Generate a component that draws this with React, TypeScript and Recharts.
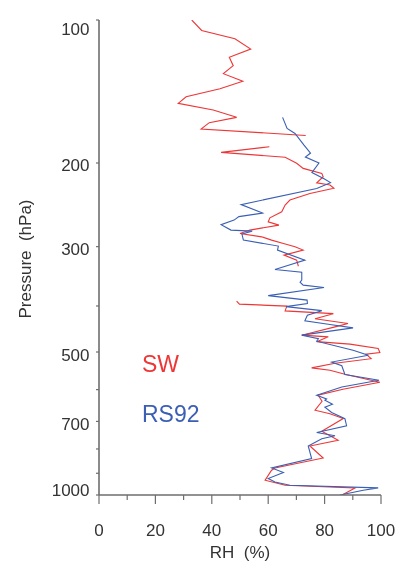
import { LineChart, Line, XAxis, YAxis } from "recharts"

// RH axis (%) and pressure axis (hPa, log)
const rhTicks = [0, 10, 20, 30, 40, 50, 60, 70, 80, 90, 100]
const pressureTicks = [100, 200, 300, 400, 500, 600, 700, 800, 900, 1000]
const pressureLabels = [100, 200, 300, 500, 700, 1000]

// SW sonde (null = no data)
const swPressure = [100, 105.2, 109.5, 115.1, 119.8, 124.8, 129.7, 134.6, 139.5, 145.1, 149.8, 154.7, 160.3, 164.5, 169.7, 175.0, 180, 184.9, 190.0, 194.5, 200.3, 205.3, 210.3, 213.8, 220.2, 222.6, 226.0, 231.8, 239.4, 245.3, 253.4, 260.9, 266.0, 270.3, 276.9, 281.4, 286.1, 290.7, 295.4, 300.2, 305.1, 312.6, 320.3, 329.9, 360, 390.7, 396.4, 400.3, 409.6, 415.2, 425.4, 435.4, 442.6, 460.8, 464.6, 475.5, 481.3, 491.5, 501.1, 505.3, 516.5, 528.2, 540.0, 546.1, 556.8, 578.8, 598.8, 616.4, 634.7, 663.0, 674.4, 690.3, 734.2, 766.9, 788.4, 835.7, 877.2, 887.0, 931.1, 954.0, 966.9, 1000]
const swRH = [32.9, 36.4, 48.2, 53.8, 46.2, 47.6, 44.1, 51.0, 42.9, 30.9, 28.1, 40.5, 48.8, 39.1, 36.2, 73.3, null, 60.4, 43.3, 66.0, 70.1, 72.4, 79.0, 79.5, 77.2, 81.9, 83.3, 74.8, 67.7, 66.0, 64.8, 60.6, 60.0, 63.8, 53.5, 50.0, 57.7, 61.2, 65.4, 69.5, 72.4, 65.6, 70.1, 70.7, null, 48.8, 49.8, 66.6, 66.0, 83.1, 76.6, 88.3, 83.7, 71.9, 81.3, 77.2, 89.0, 99.0, 99.6, 94.7, 96.5, 83.7, 75.4, 81.9, 87.2, 99.6, 86.5, 77.7, 79.1, 76.6, 81.9, 86.6, 79.0, 84.8, 74.8, 79.5, 62.4, 61.2, 58.9, 66.0, 90.8, 86.2]

// RS92 sonde
const rsPressure = [160.3, 169.1, 173.3, 183.4, 190.6, 194.3, 200.0, 209.5, 215.8, 220.0, 226.3, 244.7, 255.0, 259.4, 263.8, 269.7, 276.9, 278.3, 282.3, 290.7, 299.2, 305.1, 320.3, 335.1, 339.5, 352.9, 356.3, 361.5, 365.6, 380.5, 388.8, 395.4, 401.3, 409.2, 418.2, 430.0, 437.5, 444.7, 460.8, 468.8, 474.4, 495.6, 507.8, 525.0, 534.5, 557.6, 573.2, 592.2, 616.4, 627.7, 631.6, 644.0, 653.5, 670.4, 690.9, 714.8, 738.8, 750.6, 761.0, 788.4, 838.2, 877.2, 897.0, 923.5, 938.8, 954.0, 966.0, 977.4, 1000]
const rsRH = [65.1, 66.7, 69.5, 72.7, 75.0, 73.2, 78.0, 75.5, 79.8, 82.1, 77.2, 50.4, 58.0, 49.6, 47.9, 43.3, 46.8, 54.3, 50.7, 51.2, 63.6, 63.3, 73.0, 62.4, 71.9, 71.9, 71.3, 72.4, 79.8, 60.0, 73.8, 73.9, 66.3, 79.0, 73.9, 73.0, 81.9, 90.1, 71.9, 77.8, 77.2, 90.1, 95.5, 82.5, 86.1, 87.2, 99.3, 86.1, 77.2, 80.7, 80.1, 82.8, 80.1, 82.5, 87.2, 87.8, 77.2, 83.7, 79.0, 74.2, 75.4, 61.2, 65.4, 60.0, 62.4, 67.7, 99.0, 93.7, 85.5]

// split a profile into pieces wherever a value is missing
function segments(pressure: number[], rh: (number | null)[]) {
    const out: { p: number; rh: number }[][] = []
    let cur: { p: number; rh: number }[] = []
    pressure.forEach((p, i) => {
        const v = rh[i]
        if (v == null) {
            if (cur.length) out.push(cur)
            cur = []
        } else {
            cur.push({ p, rh: v })
        }
    })
    if (cur.length) out.push(cur)
    return out
}

const swSegments = segments(swPressure, swRH)
const rsSegments = segments(rsPressure, rsRH)

const W = 390
const H = 555
const PLOT = { left: 91, right: 373, top: 12, bottom: 487 }
const GREY = "#6e6e6e"
const TEXT = "#333"
const RED = "#ee3636"
const BLUE = "#3a5fb4"
const FONT = "'Liberation Sans', Arial, Helvetica, sans-serif"

function BottomTick({ x, payload }: any) {
    const v = payload.value
    const major = v % 20 === 0
    return (
        <g>
            <line x1={x} x2={x} y1={PLOT.bottom} y2={PLOT.bottom + (major ? 9 : 5)} stroke={GREY} strokeWidth={1.2} />
            {major && (
                <text x={x} y={PLOT.bottom + 41} textAnchor="middle" fontSize={17} fill={TEXT} fontFamily={FONT}>
                    {v}
                </text>
            )}
        </g>
    )
}

function TopTick({ x, payload }: any) {
    const major = payload.value % 20 === 0
    return <line x1={x} x2={x} y1={PLOT.top} y2={PLOT.top - (major ? 10 : 5)} stroke={GREY} strokeWidth={1.2} />
}

function LeftTick({ y, payload }: any) {
    const v = payload.value
    // edge labels are pulled inward like in the original plot
    const dy = v === 100 ? 15 : v === 1000 ? 1 : 8.5
    return (
        <g>
            <line x1={PLOT.left} x2={PLOT.left - 3} y1={y} y2={y} stroke={GREY} strokeWidth={1.2} />
            {pressureLabels.includes(v) && (
                <text x={81.5} y={y + dy} textAnchor="end" fontSize={17} fill={TEXT} fontFamily={FONT}>
                    {v}
                </text>
            )}
        </g>
    )
}

function RightTick({ y }: any) {
    return <line x1={PLOT.right} x2={PLOT.right + 3} y1={y} y2={y} stroke="#222" strokeWidth={1.2} />
}

export default function App() {
    // fixed so the page never grows a scrollbar
    return (
        <div style={{ position: "fixed", left: 8, top: 8, width: W, height: H }}>
            <LineChart width={W} height={H} layout="vertical" margin={{ top: 12, right: 17, bottom: 0, left: 0 }} style={{ overflow: "visible" }}>
                <XAxis type="number" dataKey="rh" domain={[0, 100]} ticks={rhTicks} interval={0} height={68}
                    axisLine={{ stroke: GREY, strokeWidth: 1.6 }} tickLine={false} tick={<BottomTick />} allowDataOverflow />
                <XAxis xAxisId="top" orientation="top" type="number" domain={[0, 100]} ticks={rhTicks} interval={0} height={0}
                    axisLine={{ stroke: GREY, strokeWidth: 1.6 }} tickLine={false} tick={<TopTick />} allowDataOverflow />
                <YAxis type="number" dataKey="p" scale="log" domain={[100, 1000]} ticks={pressureTicks} interval={0} width={91}
                    axisLine={{ stroke: GREY, strokeWidth: 1.6 }} tickLine={false} tick={<LeftTick />} allowDataOverflow />
                <YAxis yAxisId="right" orientation="right" type="number" dataKey="p" scale="log" domain={[100, 1000]} ticks={pressureTicks}
                    interval={0} width={0} axisLine={{ stroke: "#1a1a1a", strokeWidth: 1.6 }} tickLine={false} tick={<RightTick />} allowDataOverflow />
                {swSegments.map((seg, i) => (
                    <Line key={`sw-${i}`} data={seg} dataKey="rh" name="SW" stroke={RED} strokeWidth={1.1} dot={false} isAnimationActive={false} />
                ))}
                {rsSegments.map((seg, i) => (
                    <Line key={`rs-${i}`} data={seg} dataKey="rh" name="RS92" stroke={BLUE} strokeWidth={1.1} dot={false} isAnimationActive={false} />
                ))}
            </LineChart>
            <svg width={W} height={H} style={{ position: "absolute", left: 0, top: 0, pointerEvents: "none", overflow: "visible" }} fontFamily={FONT}>
                <text x={17} y={251} transform="rotate(-90, 17, 251)" textAnchor="middle" dominantBaseline="central" fontSize={17} fill={TEXT}>
                    {"Pressure\u00a0 (hPa)"}
                </text>
                <text x={232} y={550} textAnchor="middle" fontSize={17} fill={TEXT}>
                    {"RH\u00a0 (%)"}
                </text>
                <text x={134} y={363.5} fontSize={23} fill={RED}>SW</text>
                <text x={134} y={413.5} fontSize={23} fill={BLUE}>RS92</text>
            </svg>
        </div>
    )
}
